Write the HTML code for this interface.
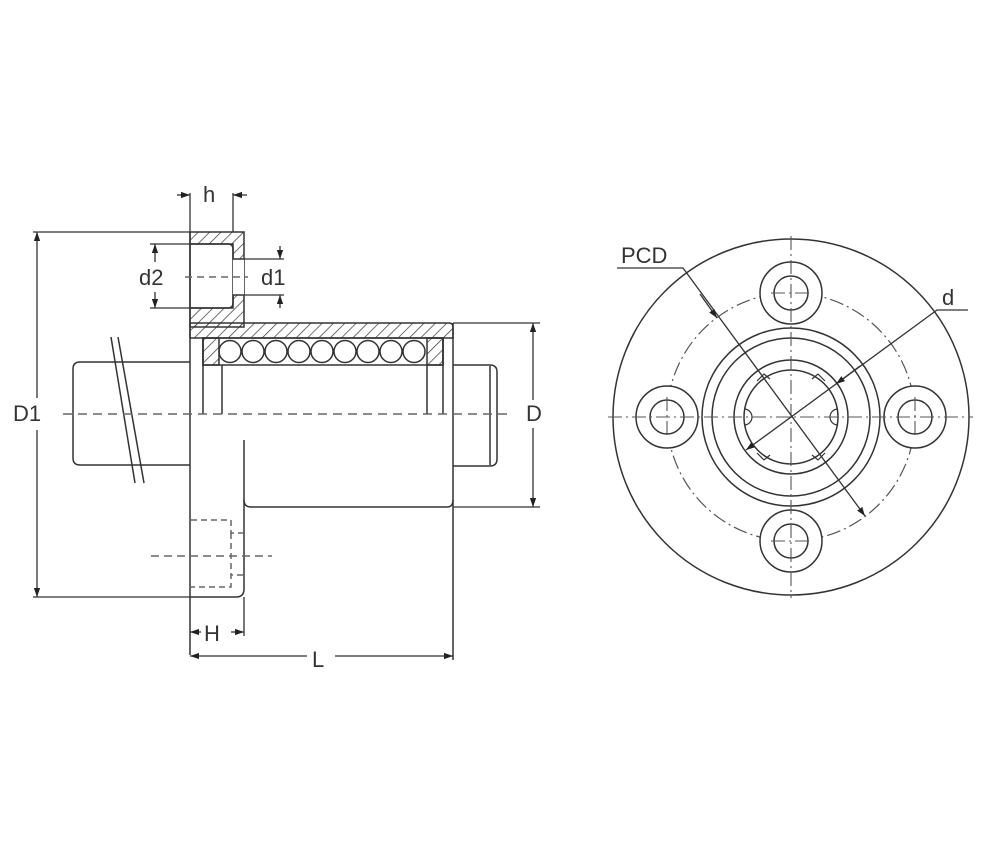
<!DOCTYPE html>
<html><head><meta charset="utf-8"><style>
html,body{margin:0;padding:0;background:#fff;}
svg{display:block;}
text{font-family:"Liberation Sans",sans-serif;fill:#333;font-size:22px;}
</style></head><body>
<svg width="1000" height="866" viewBox="0 0 1000 866" xmlns="http://www.w3.org/2000/svg">
<defs>
<pattern id="hat" patternUnits="userSpaceOnUse" width="8" height="8" patternTransform="rotate(45)">
<line x1="0" y1="0" x2="0" y2="8" stroke="#333" stroke-width="1.4"/>
</pattern>
<marker id="ar" viewBox="0 0 10 10" refX="10" refY="5" markerWidth="9" markerHeight="9" orient="auto-start-reverse" markerUnits="userSpaceOnUse"><path d="M0,1.5 L10,5 L0,8.5z" fill="#222"/></marker>
</defs>
<g fill="none" stroke="#333" stroke-width="1.5">
<path d="M190,232 H244 V327 H190 Z M190,244 H233 V308 H190 Z" fill="url(#hat)" fill-rule="evenodd"/>
<rect x="233" y="259" width="11" height="36" fill="#fff" stroke="none"/>
<path d="M190,244 H228 Q233,244 233,249 V259 H244 M244,295 H233 V303 Q233,308 228,308 H190"/>
<path d="M190,323 H449 Q453,323 453,327 V338 H190 Z" fill="url(#hat)"/>
<rect x="203" y="338" width="240" height="27"/>
<rect x="203" y="338" width="16" height="27" fill="url(#hat)"/>
<rect x="427" y="338" width="16" height="27" fill="url(#hat)"/>
<g>
<circle cx="230" cy="351.5" r="11"/><circle cx="253" cy="351.5" r="11"/><circle cx="276" cy="351.5" r="11"/><circle cx="299" cy="351.5" r="11"/><circle cx="322" cy="351.5" r="11"/><circle cx="345" cy="351.5" r="11"/><circle cx="368" cy="351.5" r="11"/><circle cx="391" cy="351.5" r="11"/><circle cx="414" cy="351.5" r="11"/>
</g>
<line x1="190" y1="232" x2="190" y2="655"/>
<line x1="453" y1="323" x2="453" y2="660"/>
<line x1="203" y1="338" x2="203" y2="414"/>
<line x1="222" y1="365" x2="222" y2="414"/>
<line x1="427" y1="365" x2="427" y2="414"/>
<line x1="443" y1="338" x2="443" y2="414"/>
<path d="M244,440 V589 Q244,597 236,597 H190"/>
<path d="M244,500 Q244,507 251,507 H447 Q453,507 453,500"/>
<path d="M190,362 H80 Q73,362 73,369 V458 Q73,465 80,465 H190"/>
<path d="M453,365 H490 Q497,365 497,372 V459 Q497,466 490,466 H453"/>
<line x1="490" y1="366" x2="490" y2="465"/>
<line x1="111" y1="337" x2="135" y2="483"/>
<line x1="118" y1="337" x2="144" y2="483"/>
<path d="M191,520 H231 V533 H243 M243,575 H231 V587 H191" stroke-dasharray="6,4" stroke="#666"/>
<line x1="231" y1="533" x2="231" y2="575" stroke-dasharray="6,4" stroke="#666"/>
<line x1="151" y1="556" x2="272" y2="556" stroke-dasharray="8,5" stroke="#666"/>
<line x1="63" y1="414" x2="512" y2="414" stroke-dasharray="9,6" stroke="#666"/>
<line x1="185" y1="277" x2="248" y2="277" stroke-dasharray="7,5" stroke="#666"/>
</g>
<g fill="none" stroke="#333" stroke-width="1.3">
<line x1="33" y1="232" x2="190" y2="232"/>
<line x1="33" y1="597" x2="190" y2="597"/>
<line x1="37" y1="232" x2="37" y2="398" marker-start="url(#ar)"/>
<line x1="37" y1="430" x2="37" y2="597" marker-end="url(#ar)"/>
<line x1="453" y1="323" x2="540" y2="323"/>
<line x1="453" y1="507" x2="540" y2="507"/>
<line x1="533" y1="323" x2="533" y2="400" marker-start="url(#ar)"/>
<line x1="533" y1="428" x2="533" y2="507" marker-end="url(#ar)"/>
<line x1="190" y1="193" x2="190" y2="232"/>
<line x1="233" y1="193" x2="233" y2="232"/>
<line x1="177" y1="195" x2="190" y2="195" marker-end="url(#ar)"/>
<line x1="247" y1="195" x2="233" y2="195" marker-end="url(#ar)"/>
<line x1="150" y1="244" x2="190" y2="244"/>
<line x1="150" y1="308" x2="190" y2="308"/>
<line x1="155" y1="262" x2="155" y2="244" marker-end="url(#ar)"/>
<line x1="155" y1="292" x2="155" y2="308" marker-end="url(#ar)"/>
<line x1="244" y1="259" x2="284" y2="259"/>
<line x1="244" y1="295" x2="284" y2="295"/>
<line x1="280" y1="246" x2="280" y2="259" marker-end="url(#ar)"/>
<line x1="280" y1="308" x2="280" y2="295" marker-end="url(#ar)"/>
<line x1="244" y1="597" x2="244" y2="636"/>
<line x1="201" y1="632" x2="190" y2="632" marker-end="url(#ar)"/>
<line x1="231" y1="632" x2="244" y2="632" marker-end="url(#ar)"/>
<line x1="307" y1="656" x2="190" y2="656" marker-end="url(#ar)"/>
<line x1="335" y1="656" x2="453" y2="656" marker-end="url(#ar)"/>
</g>
<text x="13" y="421">D1</text>
<text x="526" y="421" font-size="20">D</text>
<text x="203" y="202">h</text>
<text x="139" y="285">d2</text>
<text x="261" y="285">d1</text>
<text x="204" y="641">H</text>
<text x="312" y="667">L</text>
<g fill="none" stroke="#333" stroke-width="1.5">
<circle cx="791" cy="417" r="178"/>
<circle cx="791" cy="417" r="124" stroke-dasharray="14,4,2,4" stroke="#555" stroke-width="1.2"/>
<circle cx="791" cy="417" r="89"/>
<circle cx="791" cy="417" r="79"/>
<circle cx="791" cy="417" r="57"/>
<circle cx="791" cy="417" r="47"/>
<g fill="#fff">
<circle cx="791" cy="293" r="31"/><circle cx="791" cy="293" r="17"/>
<circle cx="791" cy="541" r="31"/><circle cx="791" cy="541" r="17"/>
<circle cx="667" cy="417" r="31"/><circle cx="667" cy="417" r="17"/>
<circle cx="915" cy="417" r="31"/><circle cx="915" cy="417" r="17"/>
</g>
<g stroke-width="1.2">
<path d="M744,409 A8,8 0 0 1 744,425"/>
<path d="M838,409 A8,8 0 0 0 838,425"/>
<path d="M757,381 l7,-7 l6,5"/><path d="M825,381 l-7,-7 l-6,5"/>
<path d="M757,453 l7,7 l6,-5"/><path d="M825,453 l-7,7 l-6,-5"/>
</g>
<g stroke="#555" stroke-width="1.1" stroke-dasharray="14,4,2,4">
<line x1="608" y1="417" x2="973" y2="417"/>
<line x1="791" y1="236" x2="791" y2="598"/>
<line x1="771" y1="293" x2="811" y2="293"/><line x1="771" y1="541" x2="811" y2="541"/>
<line x1="667" y1="397" x2="667" y2="437"/><line x1="915" y1="397" x2="915" y2="437"/>
</g>
<g stroke-width="1.3">
<path d="M617,268 H683 L865,516" marker-end="url(#ar)"/>
<line x1="700" y1="294" x2="717" y2="318" marker-end="url(#ar)"/>
<path d="M968,310 H937 L746,450" marker-end="url(#ar)"/>
<line x1="860" y1="366" x2="836" y2="384" marker-end="url(#ar)"/>
</g>
</g>
<text x="621" y="263">PCD</text>
<text x="942" y="305">d</text>
</svg>
</body></html>
